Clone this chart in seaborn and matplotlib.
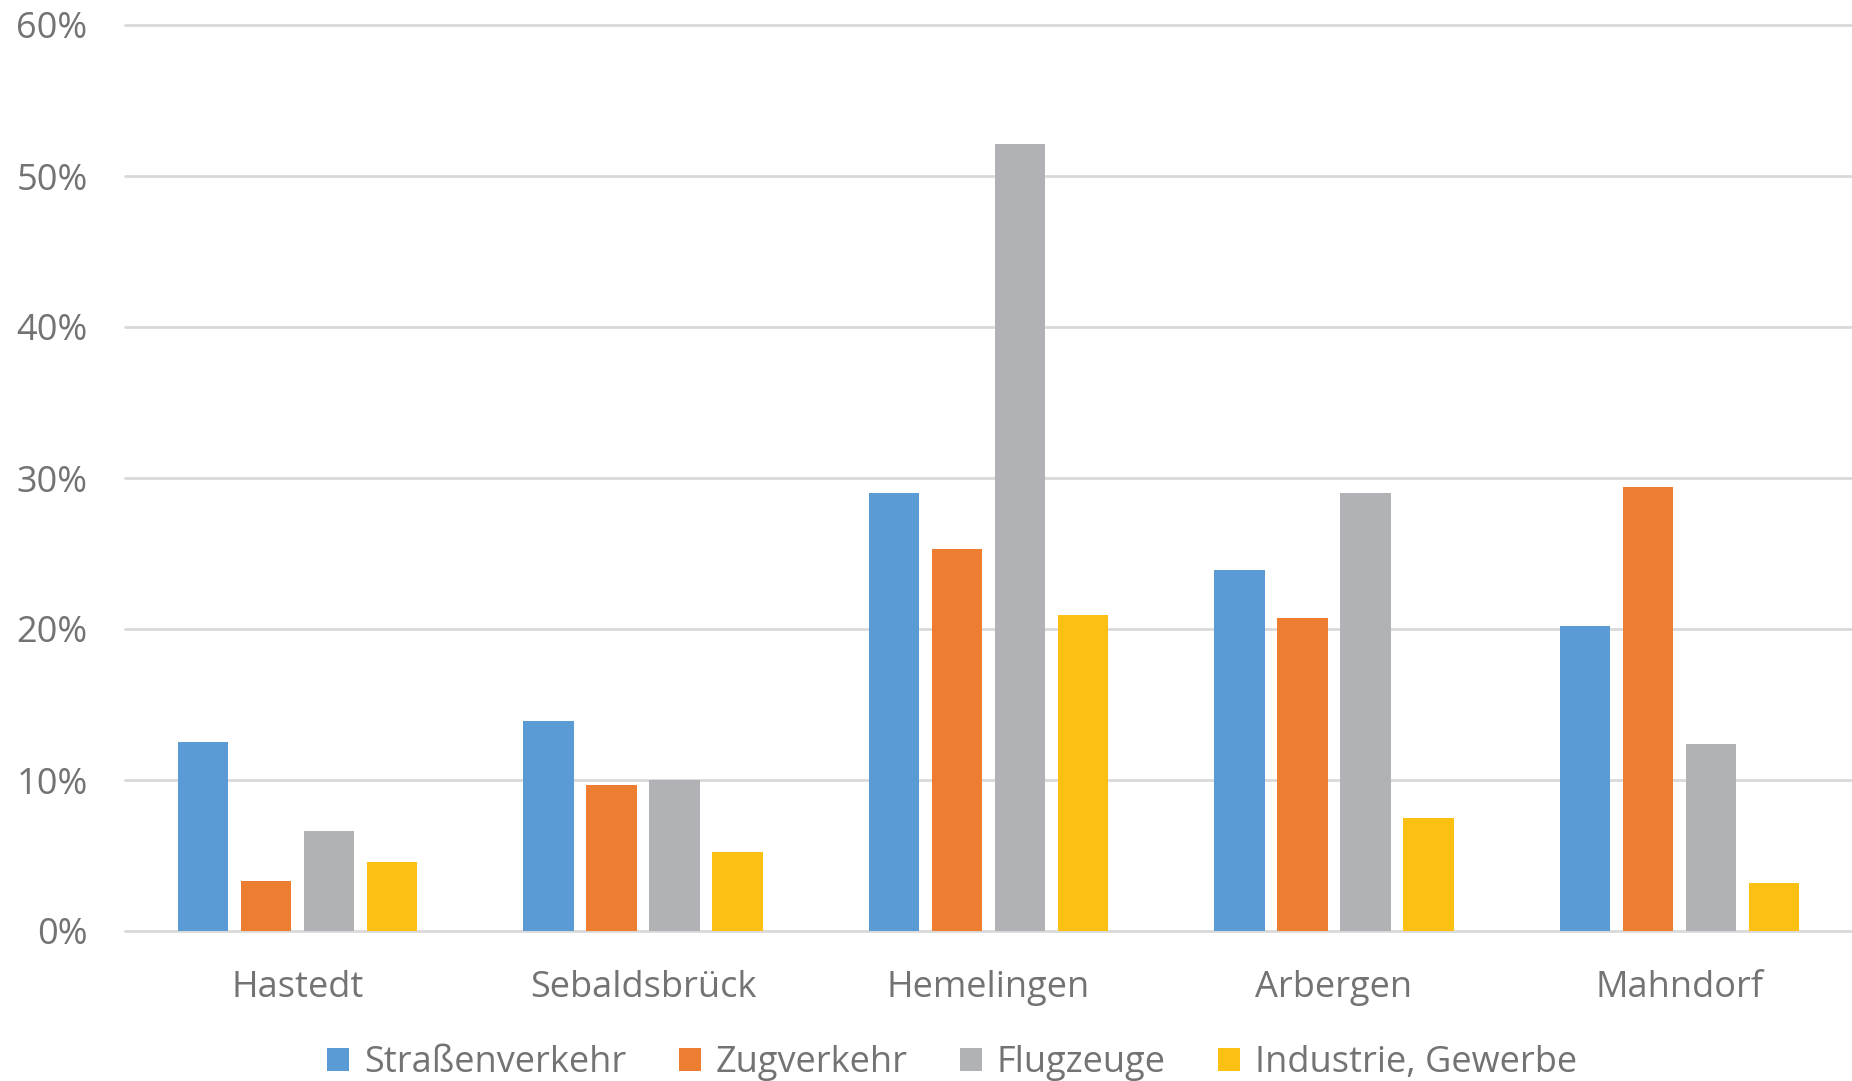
import matplotlib
matplotlib.use("Agg")
import matplotlib.pyplot as plt
import matplotlib.ticker as mticker
import seaborn as sns
import pandas as pd

# Anteil der Lärmbetroffenen je Stadtteil und Lärmquelle
stadtteile = ["Hastedt", "Sebaldsbrück", "Hemelingen", "Arbergen", "Mahndorf"]
quellen = ["Straßenverkehr", "Zugverkehr", "Flugzeuge", "Industrie, Gewerbe"]
strassenverkehr = [12.5, 13.9, 29.0, 23.9, 20.2]
zugverkehr = [3.3, 9.7, 25.3, 20.7, 29.4]
flugzeuge = [6.6, 10.0, 52.1, 29.0, 12.4]
industrie = [4.6, 5.2, 20.9, 7.5, 3.2]
farben = ["#5B9BD5", "#ED7D31", "#B1B2B5", "#FBC011"]
y_ticks = [0, 10, 20, 30, 40, 50, 60]

werte = [strassenverkehr, zugverkehr, flugzeuge, industrie]
rows = []
for q, reihe in zip(quellen, werte):
    for s, v in zip(stadtteile, reihe):
        rows.append({"Stadtteil": s, "Quelle": q, "Anteil": v / 100})
df = pd.DataFrame(rows)

sns.set_theme(style="white")
plt.rcParams["font.family"] = ["Open Sans", "DejaVu Sans"]
text_col = "#737373"

fig = plt.figure(figsize=(18.52, 10.81), dpi=100)
ax = fig.add_axes([125 / 1852, 1 - 931 / 1081, 1 - 125 / 1852, (931 - 25) / 1081])

sns.barplot(data=df, x="Stadtteil", y="Anteil", hue="Quelle",
            order=stadtteile, hue_order=quellen, palette=farben,
            width=0.73, gap=0.2, saturation=1, ax=ax, zorder=3,
            edgecolor="none", linewidth=0)

ax.set_ylim(0, 0.6)
ax.set_xlim(-0.5, 4.5)
ax.set_yticks([t / 100 for t in y_ticks])
ax.yaxis.set_major_formatter(mticker.PercentFormatter(1.0, decimals=0))
ax.grid(axis="y", color="#D9D9D9", linewidth=2, zorder=0)
ax.set_axisbelow(True)
for gl in ax.get_ygridlines():
    gl.set_clip_on(False)
for sp in ax.spines.values():
    sp.set_visible(False)
ax.tick_params(axis="both", length=0, labelsize=26, colors=text_col)
ax.tick_params(axis="y", pad=27)
ax.tick_params(axis="x", pad=28)
ax.set_xlabel("")
ax.set_ylabel("")

ax.legend_.remove()
handles, labels = ax.get_legend_handles_labels()
fig.legend(handles[:4], labels[:4], loc="center", bbox_to_anchor=(952 / 1852, 1 - 1063 / 1081),
           ncol=4, frameon=False, fontsize=26, labelcolor=text_col,
           handlelength=0.62, handleheight=0.62, handletextpad=0.4, columnspacing=1.45,
           borderaxespad=0)

fig.savefig("out.png", dpi=100)
